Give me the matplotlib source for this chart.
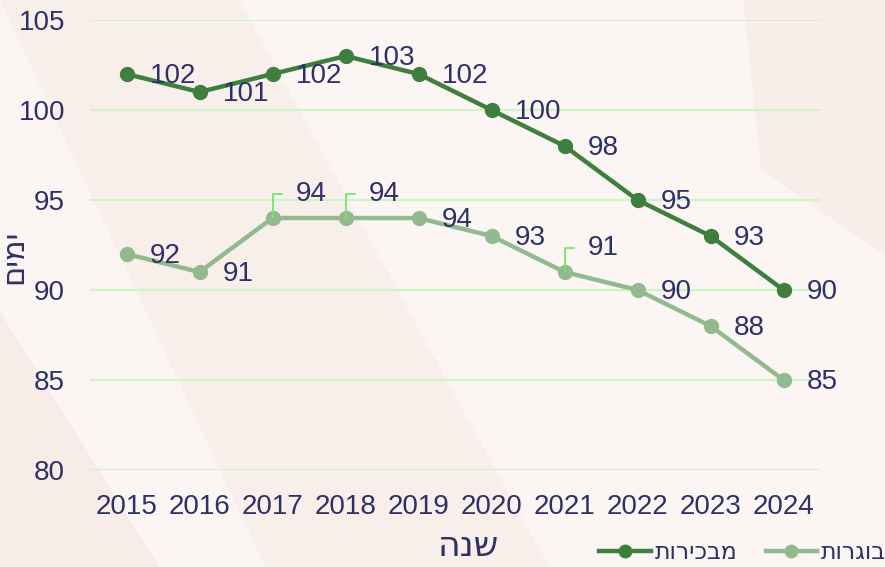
import numpy as np
import matplotlib.pyplot as plt
from matplotlib.patches import Polygon

years = [2015, 2016, 2017, 2018, 2019, 2020, 2021, 2022, 2023, 2024]
primi = [102, 101, 102, 103, 102, 100, 98, 95, 93, 90]      # מבכירות
mature = [92, 91, 94, 94, 94, 93, 91, 90, 88, 85]           # בוגרות
# labels drawn with a leader line above the point
mature_callout = [2017, 2018, 2021]

def heb(s):
    # matplotlib has no bidi, reverse hebrew by hand
    return s[::-1]

txt = '#2E3166'
dark = '#3E7F3E'
light = '#93BA8F'
fs = 20

plt.rcParams['font.family'] = ['Liberation Sans', 'DejaVu Sans']

fig = plt.figure(figsize=(8.85, 5.67), dpi=100)
fig.patch.set_facecolor('#FBF6F3')
# soft background shapes
for pts, c in [([[0, 1], [0.27, 1], [0.62, 0], [0.30, 0]], '#F8EFEB'),
               ([[0.84, 1], [1, 1], [1, 0.55], [0.86, 0.7]], '#F8EDE9'),
               ([[0, 0.45], [0.18, 0], [0, 0]], '#F7ECE7')]:
    fig.patches.append(Polygon(pts, closed=True, transform=fig.transFigure,
                               fc=c, ec='none', zorder=-5))

ax = fig.add_axes([0.1017, 0.171, 0.825, 0.7937])
ax.set_facecolor('none')
x = np.arange(len(years))

ax.plot(x, primi, color=dark, lw=3.2, marker='o', ms=10, label=heb('מבכירות'), zorder=3)
ax.plot(x, mature, color=light, lw=3.2, marker='o', ms=10, label=heb('בוגרות'), zorder=3)

for i, v in enumerate(primi):
    ax.annotate(str(v), (x[i], v), xytext=(23, -2), textcoords='offset pixels',
                ha='left', va='center', fontsize=fs, color=txt, zorder=4)
for i, v in enumerate(mature):
    if years[i] in mature_callout:
        ax.annotate(str(v), (x[i], v), xytext=(23, 24), textcoords='offset pixels',
                    ha='left', va='center', fontsize=fs, color=txt, zorder=4,
                    arrowprops=dict(arrowstyle='-', color='#6FE86F', lw=1.3,
                                    shrinkA=8, shrinkB=0,
                                    connectionstyle='angle,angleA=0,angleB=90,rad=0'))
    else:
        ax.annotate(str(v), (x[i], v), xytext=(23, -2), textcoords='offset pixels',
                    ha='left', va='center', fontsize=fs, color=txt, zorder=4)

ax.set_xlim(-0.5, len(years) - 0.5)
ax.set_ylim(80, 105)
ax.set_yticks(range(80, 106, 5))
ax.set_xticks(x)
ax.set_xticklabels([str(y) for y in years])
ax.tick_params(length=0, labelsize=fs, labelcolor=txt)
ax.tick_params(axis='x', pad=17)
ax.tick_params(axis='y', pad=18)
ax.grid(axis='y', color='#CCF5C6', lw=1.5)
ax.set_axisbelow(True)
for s in ax.spines.values():
    s.set_visible(False)

ax.set_ylabel(heb('ימים'), fontsize=22, color=txt, family='DejaVu Sans', va='center')
ax.yaxis.set_label_coords(-0.104, 0.473)
ax.set_xlabel(heb('שנה'), fontsize=25, color=txt, family='DejaVu Sans', va='center')
ax.xaxis.set_label_coords(0.519, -0.169)

fig.legend(loc='center right', bbox_to_anchor=(1.025, 0.026), ncol=2, frameon=False,
           prop={'family': 'DejaVu Sans', 'size': 17}, labelcolor=txt,
           handlelength=2.2, handletextpad=0.15, columnspacing=1.2, markerscale=0.9)

fig.savefig('out.png', dpi=100, facecolor=fig.get_facecolor())
